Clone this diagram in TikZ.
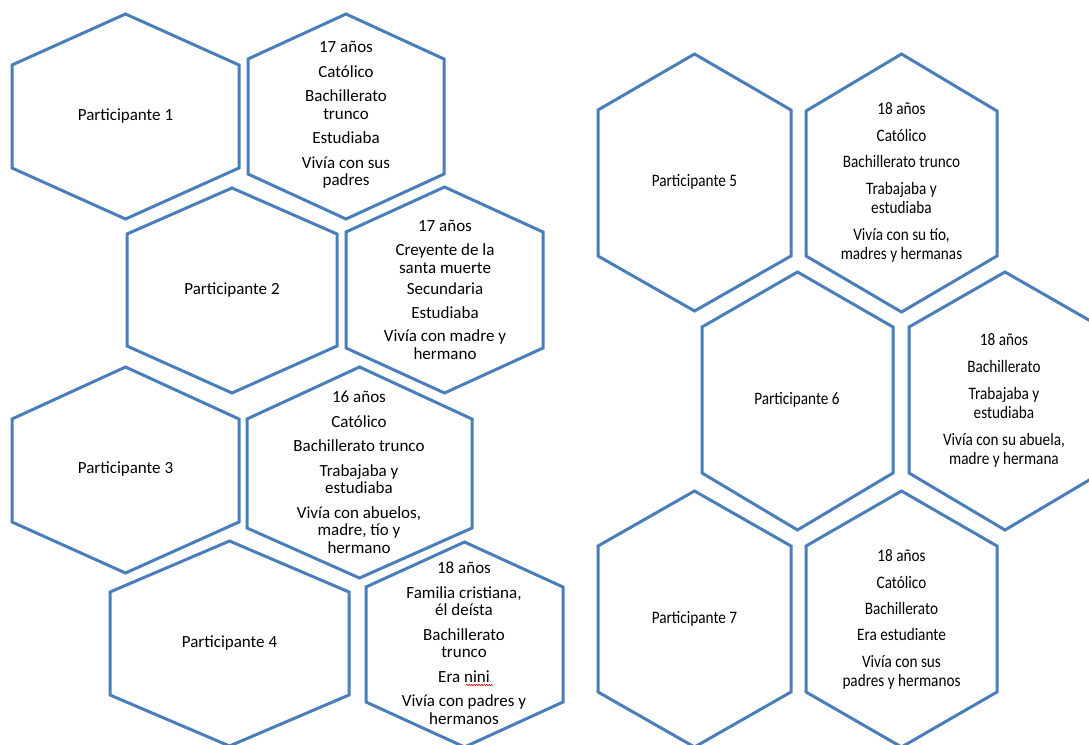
\documentclass[tikz,border=0pt]{standalone}
\usepackage{fontspec}
\setmainfont{Carlito}
\newfontfamily\rightfont[FakeStretch=0.87]{Carlito}
\usetikzlibrary{decorations.pathmorphing}
\definecolor{hexblue}{RGB}{74,126,187}
\tikzset{
  hexline/.style={draw=hexblue,line width=3pt,line join=miter},
  ltxt/.style={align=center,inner sep=0pt,text=black,font=\fontsize{17}{17.5}\selectfont},
  rtxt/.style={align=center,inner sep=0pt,text=black,font=\rightfont\fontsize{17.5}{19}\selectfont},
  spell/.style={draw=red,line width=0.6pt,decorate,decoration={snake,amplitude=0.7pt,segment length=2.5pt}}
}
% cx, left, right, top, upper, lower, bottom
\newcommand\hexa[7]{\draw[hexline] (#1,#4) -- (#3,#5) -- (#3,#6) -- (#1,#7) -- (#2,#6) -- (#2,#5) -- cycle;}
\begin{document}
\begin{tikzpicture}[x=1pt,y=-1pt]
\useasboundingbox (0,0) rectangle (1089,744);
\clip (0,0) rectangle (1089,744);
% left column hexagons
\hexa{125.5}{12}{239}{14}{65}{168}{219}
\hexa{346}{248}{444}{14}{59}{174}{219}
\hexa{232}{127}{337}{188}{234}{346}{393}
\hexa{444.5}{346}{543}{187}{232}{348}{393}
\hexa{125.5}{12}{239}{367}{419}{522}{573}
\hexa{359.5}{247}{472}{367}{419}{528}{578}
\hexa{229.5}{110}{349}{541}{592}{695}{746}
\hexa{464.5}{366}{563}{542}{587}{702}{747}
% right column hexagons
\hexa{694.5}{598}{791}{54}{110}{256}{311}
\hexa{901.5}{806}{997}{54}{111}{256}{312}
\hexa{797.5}{702}{893}{272}{327}{473}{530}
\hexa{1005}{909}{1101}{272}{327}{473}{530}
\hexa{694.5}{598}{791}{491}{546}{692}{747}
\hexa{901.5}{806}{997}{491}{546}{692}{747}
% participant labels
\node[ltxt] (p1) at (125.5,116) {Participante 1};
\node[ltxt] (p2) at (232,290) {Participante 2};
\node[ltxt] (p3) at (125.5,469) {Participante 3};
\node[ltxt] (p4) at (229.5,643) {Participante 4};
\node[rtxt] (p5) at (694.5,182) {Participante 5};
\node[rtxt] (p6) at (797,400) {Participante 6};
\node[rtxt] (p7) at (694.5,619) {Participante 7};
% details
\node[ltxt] (a1) at (346,115) {17 años\\[7pt]Católico\\[7pt]Bachillerato\\trunco\\[7pt]Estudiaba\\[7pt]Vivía con sus\\padres};
\node[ltxt] (a2) at (445,289.5) {17 años\\[7pt]Creyente de la\\santa muerte\\[4pt]Secundaria\\[6pt]Estudiaba\\[6pt]Vivía con madre y\\hermano};
\node[ltxt] (a3) at (359,472.5) {16 años\\[7pt]Católico\\[7pt]Bachillerato trunco\\[7pt]Trabajaba y\\estudiaba\\[7pt]Vivía con abuelos,\\madre, tío y\\hermano};
\node[ltxt] (a4) at (464,643) {18 años\\[7pt]Familia cristiana,\\él deísta\\[7pt]Bachillerato\\trunco\\[7pt]Era nini\\[7pt]Vivía con padres y\\hermanos};
\node[rtxt] (a5) at (901.5,182.5) {18 años\\[8pt]Católico\\[7pt]Bachillerato trunco\\[8pt]Trabajaba y\\estudiaba\\[8pt]Vivía con su tío,\\madres y hermanas};
\node[rtxt] (a6) at (1004,400.5) {18 años\\[8pt]Bachillerato\\[8pt]Trabajaba y\\estudiaba\\[8pt]Vivía con su abuela,\\madre y hermana};
\node[rtxt] (a7) at (901.5,619) {18 años\\[8pt]Católico\\[7pt]Bachillerato\\[7pt]Era estudiante\\[8pt]Vivía con sus\\padres y hermanos};
\draw[spell] (466,685) -- (493,685);
\end{tikzpicture}
\end{document}
